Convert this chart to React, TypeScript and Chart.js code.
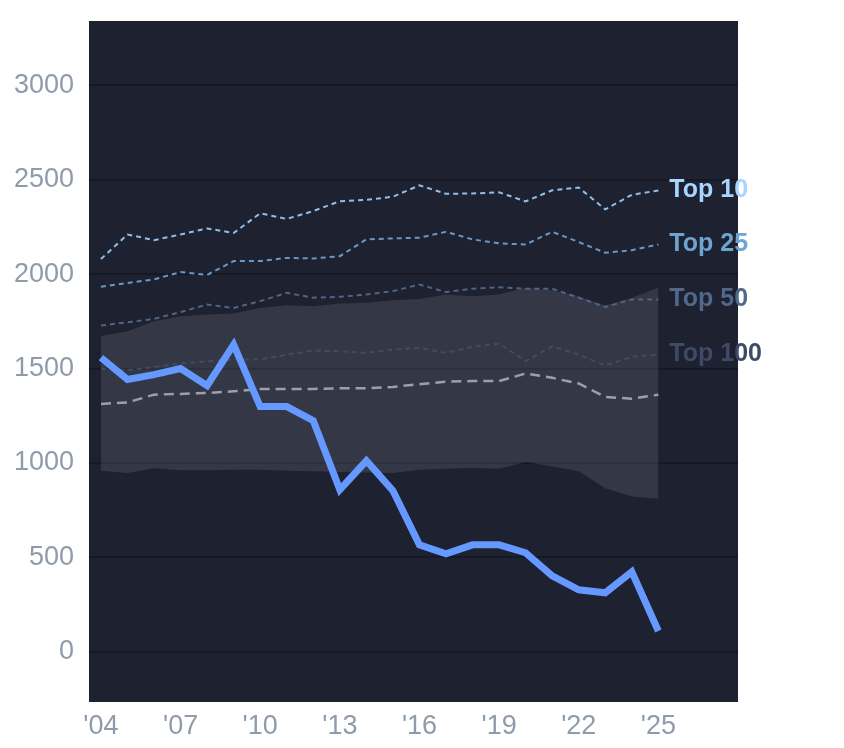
import { useEffect, useRef } from "react";
import { Chart, registerables } from "chart.js";

Chart.register(...registerables);

const years = [
  2004, 2005, 2006, 2007, 2008, 2009, 2010, 2011, 2012, 2013, 2014, 2015, 2016,
  2017, 2018, 2019, 2020, 2021, 2022, 2023, 2024, 2025,
];

const player = [
  1558, 1442, 1468, 1500, 1410, 1627, 1299, 1299, 1224, 859, 1012, 853, 567,
  519, 567, 567, 525, 403, 329, 313, 424, 111,
];

const top10 = [
  2080, 2210, 2180, 2210, 2242, 2218, 2322, 2292, 2334, 2386, 2393, 2410, 2470,
  2425, 2427, 2433, 2385, 2444, 2458, 2343, 2420, 2443,
];
const top25 = [
  1933, 1953, 1972, 2011, 1996, 2069, 2069, 2086, 2083, 2095, 2184, 2189, 2193,
  2224, 2184, 2163, 2157, 2224, 2170, 2113, 2127, 2157,
];
const top50 = [
  1728, 1745, 1763, 1799, 1839, 1821, 1857, 1901, 1875, 1880, 1892, 1910, 1945,
  1905, 1923, 1931, 1923, 1923, 1875, 1826, 1866, 1866,
];
const top100 = [
  1500, 1491, 1509, 1527, 1539, 1548, 1548, 1574, 1595, 1592, 1583, 1601, 1610,
  1583, 1615, 1632, 1539, 1618, 1574, 1516, 1562, 1574,
];
const median = [
  1313, 1321, 1362, 1366, 1371, 1380, 1392, 1392, 1392, 1396, 1396, 1403, 1417,
  1431, 1434, 1434, 1474, 1451, 1421, 1350, 1340, 1362,
];
const bandLow = [
  959, 947, 972, 962, 962, 965, 965, 959, 956, 953, 950, 947, 965, 970, 974,
  970, 1005, 982, 956, 867, 823, 811,
];
const bandHigh = [
  1672, 1698, 1751, 1777, 1786, 1792, 1821, 1835, 1830, 1845, 1848, 1862, 1869,
  1892, 1883, 1892, 1928, 1915, 1883, 1834, 1875, 1928,
];

const topLabels = ["Top 10", "Top 25", "Top 50", "Top 100"];
const topLineColors = ["#90c0ea", "#6a98c4", "#4e6586", "#404b64"];
const topLabelColors = ["#a8d5ff", "#6fa3d2", "#50688a", "#3f4b66"];
const yTicks = [0, 500, 1000, 1500, 2000, 2500, 3000];
const xTicks = [2004, 2007, 2010, 2013, 2016, 2019, 2022, 2025];

const FONT = "'Liberation Sans', Arial, Helvetica, sans-serif";

const pts = (vals: number[]) => vals.map((v, i) => ({ x: years[i], y: v }));

const plotBg = {
  id: "plotBg",
  beforeDraw(chart: any) {
    const { ctx, chartArea: a } = chart;
    ctx.save();
    ctx.fillStyle = "#1d2130";
    ctx.fillRect(a.left, a.top, a.right - a.left, a.bottom - a.top);
    ctx.restore();
  },
};

const endLabels = {
  id: "endLabels",
  afterDatasetsDraw(chart: any) {
    const { ctx } = chart;
    ctx.save();
    ctx.font = `bold 25px ${FONT}`;
    ctx.textBaseline = "middle";
    ctx.textAlign = "left";
    chart.data.datasets.forEach((ds: any, i: number) => {
      const k = topLabels.indexOf(ds.label);
      if (k < 0) return;
      const meta = chart.getDatasetMeta(i);
      const last = meta.data[meta.data.length - 1];
      ctx.fillStyle = topLabelColors[k];
      ctx.fillText(ds.label, last.x + 11, last.y);
    });
    ctx.restore();
  },
};

export default function App() {
  const ref = useRef<HTMLCanvasElement>(null);

  useEffect(() => {
    document.body.style.margin = "0";
    let chart: Chart | undefined;
    if (ref.current) {
      const tops = [top10, top25, top50, top100];
      chart = new Chart(ref.current, {
        type: "line",
        data: {
          datasets: [
            {
              label: "player",
              data: pts(player),
              borderColor: "#6699ff",
              borderWidth: 7,
              pointRadius: 0,
              fill: false,
            },
            ...tops.map((vals, k) => ({
              label: topLabels[k],
              data: pts(vals),
              borderColor: topLineColors[k],
              borderWidth: 2,
              borderDash: [5, 4],
              pointRadius: 0,
              fill: false,
            })),
            {
              label: "median",
              data: pts(median),
              borderColor: "#9da0a8",
              borderWidth: 2.5,
              borderDash: [10, 6],
              pointRadius: 0,
              fill: false,
            },
            {
              label: "bandHigh",
              data: pts(bandHigh),
              borderWidth: 0,
              borderColor: "rgba(0,0,0,0)",
              backgroundColor: "rgba(255,255,255,0.1)",
              pointRadius: 0,
              fill: "+1",
            },
            {
              label: "bandLow",
              data: pts(bandLow),
              borderWidth: 0,
              borderColor: "rgba(0,0,0,0)",
              pointRadius: 0,
              fill: false,
            },
          ] as any,
        },
        options: {
          animation: false,
          responsive: false,
          layout: { padding: { top: 21, right: 106, left: 0, bottom: 0 } },
          plugins: {
            legend: { display: false },
            tooltip: { enabled: false },
          },
          scales: {
            x: {
              type: "linear",
              min: 2003.55,
              max: 2028,
              grid: { display: false, drawTicks: false },
              border: { display: false },
              afterBuildTicks: (s: any) => {
                s.ticks = xTicks.map((v) => ({ value: v }));
              },
              afterFit: (s: any) => {
                s.height = 46;
                s.paddingLeft = 0;
                s.paddingRight = 0;
              },
              ticks: {
                padding: 8,
                color: "#8f9bab",
                font: { family: FONT, size: 27 },
                maxRotation: 0,
                autoSkip: false,
                callback: (v: any) => "'" + String(v).slice(2),
              },
            },
            y: {
              min: -265,
              max: 3340,
              grid: { color: "#161925", lineWidth: 2, drawTicks: false },
              border: { display: false },
              afterBuildTicks: (s: any) => {
                s.ticks = yTicks.map((v) => ({ value: v }));
              },
              afterFit: (s: any) => {
                s.width = 89;
                s.paddingTop = 0;
                s.paddingBottom = 0;
              },
              ticks: {
                padding: 15,
                color: "#8f9bab",
                font: { family: FONT, size: 27 },
                callback: (v: any) => String(v),
              },
            },
          },
        },
        plugins: [plotBg, endLabels],
      });
    }
    return () => {
      chart?.destroy();
    };
  }, []);

  return (
    <div style={{ width: 844, height: 748 }}>
      <canvas ref={ref} width={844} height={748} />
    </div>
  );
}
